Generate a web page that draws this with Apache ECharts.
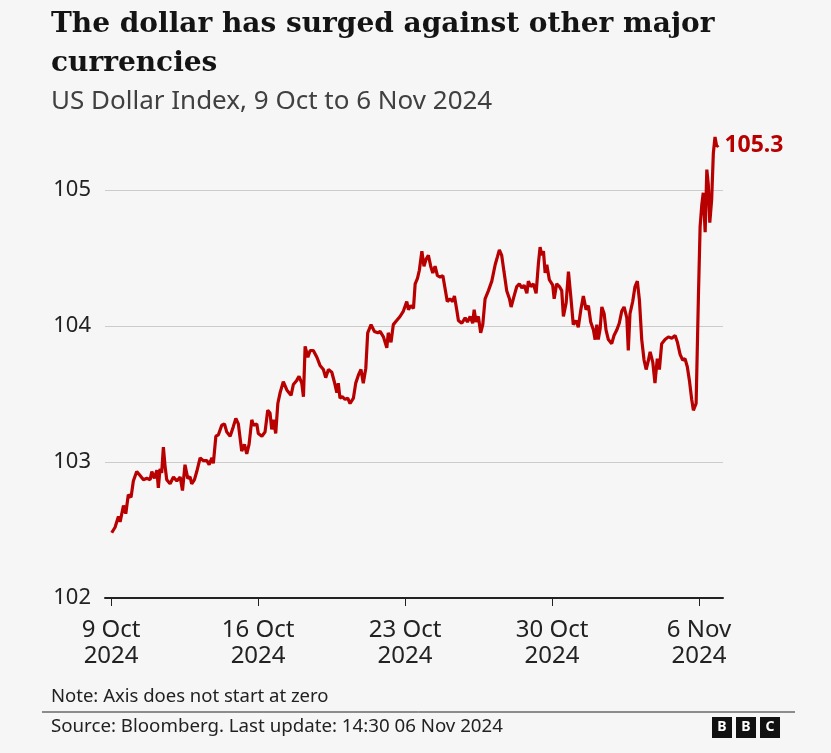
<!DOCTYPE html>
<html><head><meta charset="utf-8">
<script src="https://cdn.jsdelivr.net/npm/echarts@6/dist/echarts.min.js"></script>
<style>html,body{margin:0;padding:0;background:#f6f6f6}#c{width:831px;height:753px}</style>
</head><body><div id="c"></div>
<script>
// Days since 9 Oct 2024 00:00
const days = [0.03,0.19,0.35,0.43,0.59,0.70,0.82,0.95,1.06,1.22,1.38,1.54,1.70,1.86,1.94,2.06,2.18,2.25,2.33,2.41,2.49,2.57,2.65,2.81,2.97,3.13,3.29,3.40,3.52,3.65,3.76,3.84,3.97,4.08,4.24,4.40,4.56,4.67,4.80,4.87,4.99,5.11,5.27,5.40,5.51,5.67,5.82,5.94,6.06,6.22,6.35,6.46,6.57,6.70,6.78,6.94,7.01,7.18,7.33,7.46,7.57,7.65,7.73,7.84,7.94,8.05,8.20,8.37,8.44,8.57,8.68,8.84,8.95,9.08,9.16,9.24,9.37,9.48,9.63,9.80,9.95,10.11,10.22,10.35,10.51,10.63,10.75,10.82,10.90,11.01,11.14,11.27,11.38,11.54,11.65,11.78,11.90,12.01,12.13,12.22,12.38,12.54,12.70,12.81,12.97,13.13,13.20,13.33,13.44,13.60,13.76,13.92,14.08,14.16,14.27,14.40,14.48,14.59,14.68,14.80,14.90,15.00,15.11,15.22,15.32,15.43,15.54,15.67,15.80,15.90,16.01,16.14,16.27,16.35,16.46,16.54,16.70,16.86,16.97,17.10,17.22,17.29,17.38,17.49,17.60,17.70,17.81,17.97,18.13,18.29,18.40,18.49,18.60,18.71,18.84,18.97,19.05,19.19,19.32,19.44,19.56,19.67,19.80,19.87,19.99,20.11,20.24,20.35,20.43,20.51,20.59,20.67,20.75,20.87,21.03,21.10,21.22,21.35,21.46,21.54,21.67,21.78,21.89,22.01,22.14,22.25,22.37,22.49,22.62,22.73,22.84,22.97,23.05,23.13,23.20,23.29,23.37,23.48,23.57,23.68,23.84,23.95,24.08,24.20,24.32,24.43,24.56,24.63,24.71,24.84,24.95,25.06,25.16,25.27,25.38,25.48,25.59,25.67,25.80,25.90,26.01,26.11,26.22,26.38,26.54,26.70,26.86,26.97,27.10,27.22,27.33,27.44,27.54,27.65,27.73,27.86,27.94,27.97,28.05,28.13,28.20,28.29,28.37,28.44,28.51,28.60,28.68,28.76,28.84,28.92];
const dxy = [102.48,102.52,102.60,102.56,102.68,102.62,102.76,102.74,102.86,102.93,102.90,102.87,102.88,102.87,102.93,102.88,102.94,102.81,102.95,102.92,103.11,102.97,102.87,102.84,102.89,102.86,102.89,102.79,102.98,102.88,102.89,102.84,102.87,102.93,103.03,103.01,103.01,102.98,103.03,102.99,103.19,103.20,103.27,103.28,103.22,103.19,103.26,103.32,103.28,103.08,103.13,103.06,103.13,103.31,103.27,103.28,103.21,103.19,103.22,103.38,103.36,103.24,103.31,103.21,103.43,103.51,103.59,103.53,103.54,103.49,103.57,103.60,103.63,103.58,103.48,103.85,103.77,103.82,103.82,103.77,103.71,103.68,103.62,103.68,103.66,103.59,103.51,103.58,103.47,103.48,103.46,103.47,103.43,103.47,103.58,103.64,103.68,103.58,103.69,103.95,104.01,103.96,103.95,103.96,103.92,103.84,103.95,103.88,104.01,104.04,104.07,104.11,104.18,104.12,104.15,104.13,104.31,104.35,104.41,104.55,104.44,104.49,104.52,104.44,104.39,104.44,104.37,104.36,104.37,104.28,104.18,104.20,104.18,104.22,104.12,104.04,104.02,104.06,104.03,104.07,104.02,104.12,104.03,104.07,103.95,104.01,104.20,104.26,104.33,104.45,104.51,104.56,104.52,104.40,104.26,104.20,104.14,104.22,104.29,104.31,104.28,104.30,104.24,104.33,104.29,104.31,104.24,104.46,104.58,104.52,104.55,104.39,104.45,104.34,104.30,104.20,104.31,104.29,104.26,104.07,104.17,104.40,104.22,104.01,104.04,103.99,104.12,104.22,104.12,104.15,104.03,103.97,103.90,104.01,103.90,103.98,104.14,104.09,103.97,103.90,103.87,103.93,103.97,104.02,104.11,104.14,104.06,103.82,104.09,104.18,104.29,104.33,104.19,103.90,103.75,103.68,103.75,103.81,103.73,103.58,103.76,103.68,103.87,103.90,103.92,103.91,103.93,103.88,103.79,103.75,103.76,103.70,103.60,103.46,103.38,103.43,103.42,104.22,104.73,104.89,104.98,104.69,105.15,105.04,104.76,104.93,105.27,105.39,105.32,105.33];
const tickDays = [0, 7, 14, 21, 28];
const tickLabels = ['9 Oct\n2024', '16 Oct\n2024', '23 Oct\n2024', '30 Oct\n2024', '6 Nov\n2024'];

const data = days.map((d, i) => [d, dxy[i]]);
const chart = echarts.init(document.getElementById('c'), null, {renderer: 'canvas'});
const sans = "'Noto Sans', 'Open Sans', sans-serif";
chart.setOption({
  backgroundColor: '#f6f6f6',
  animation: false,
  title: [
    {text: 'The dollar has surged against other major\ncurrencies', left: 51, top: 5, padding: 0,
     textStyle: {fontFamily: "'DejaVu Serif', serif", fontSize: 28, fontWeight: 'bold', color: '#141414', lineHeight: 39}},
    {text: 'US Dollar Index, 9 Oct to 6 Nov 2024', left: 51, top: 87, padding: 0,
     textStyle: {fontFamily: sans, fontSize: 26, fontWeight: 'normal', color: '#404040', lineHeight: 30}},
    {text: 'Note: Axis does not start at zero', left: 51, top: 686, padding: 0,
     textStyle: {fontFamily: sans, fontSize: 18.5, fontWeight: 'normal', color: '#222', lineHeight: 22}},
    {text: 'Source: Bloomberg. Last update: 14:30 06 Nov 2024', left: 51, top: 716, padding: 0,
     textStyle: {fontFamily: sans, fontSize: 18.7, fontWeight: 'normal', color: '#222', lineHeight: 22}}
  ],
  grid: {left: 105, right: 108, top: 190, bottom: 155, containLabel: false},
  xAxis: {
    type: 'value', min: -0.29, max: 29.14,
    axisLine: {show: true, lineStyle: {color: '#222', width: 2}},
    axisTick: {show: true, customValues: tickDays, length: 8, lineStyle: {color: '#222', width: 1}},
    axisLabel: {customValues: tickDays, formatter: v => tickLabels[tickDays.indexOf(v)] || '',
      fontFamily: sans, fontSize: 24, color: '#222', lineHeight: 26, margin: 19},
    splitLine: {show: false}
  },
  yAxis: {
    type: 'value', min: 102, max: 105, interval: 1,
    axisLine: {show: false}, axisTick: {show: false},
    axisLabel: {fontFamily: sans, fontSize: 22, color: '#222', margin: 14},
    splitLine: {show: true, lineStyle: {color: '#cccccc', width: 1}}
  },
  series: [{
    type: 'line', data: data, showSymbol: false, clip: false,
    lineStyle: {color: '#b80000', width: 3.2},
    endLabel: {show: true, formatter: p => p.value[1].toFixed(1),
      fontFamily: sans, fontSize: 23, fontWeight: 'bold', color: '#b80000', distance: 6}
  }],
  graphic: [
    {type: 'line', shape: {x1: 42, y1: 712, x2: 795, y2: 712}, style: {stroke: '#222', lineWidth: 1}},
    {type: 'group', left: 712, top: 717, children: ['B','B','C'].map((ch, i) => ({
      type: 'group', x: i * 24, children: [
        {type: 'rect', shape: {x: 0, y: 0, width: 20, height: 21}, style: {fill: '#111'}},
        {type: 'text', x: 10, y: 10.5, style: {text: ch, fill: '#fff', font: "bold 14px 'Noto Sans', sans-serif", align: 'center', verticalAlign: 'middle'}}
      ]}))}
  ]
});
</script></body></html>
